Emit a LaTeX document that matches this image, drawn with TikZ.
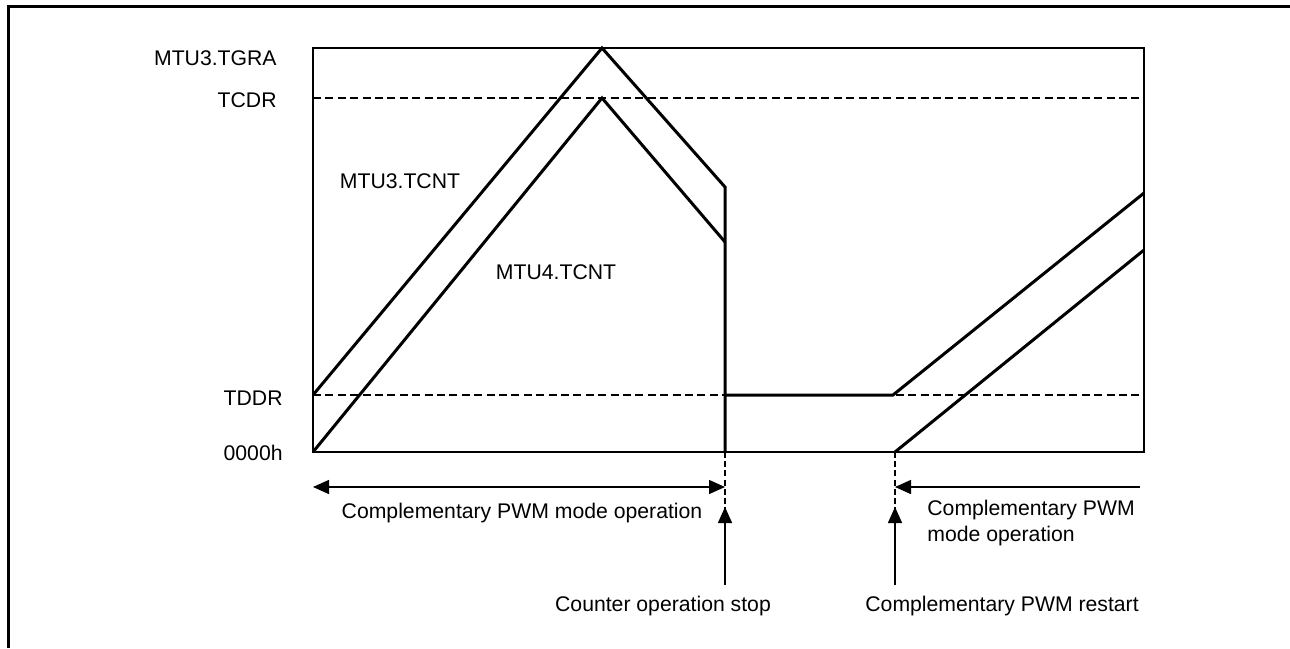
\documentclass[tikz,border=0pt]{standalone}
\usepackage{fontspec}
\setmainfont{Liberation Sans}
\usetikzlibrary{arrows.meta}
\begin{document}
\begin{tikzpicture}[
   x=0.5pt,y=-0.5pt,
   cnt/.style={line width=1.5pt,line join=miter},
   axis/.style={line width=0.75pt},
   lvl/.style={line width=1pt,dash pattern=on 4pt off 2.2pt},
   guide/.style={line width=0.75pt,dash pattern=on 3pt off 1.6pt},
   tip/.style={-{Triangle[length=8pt,width=7pt]}},
   both/.style={{Triangle[length=8pt,width=7pt]}-{Triangle[length=8pt,width=7pt]}},
   every node/.style={font=\fontsize{10.6}{13}\selectfont,inner sep=0pt}
 ]
  \useasboundingbox (0,0) rectangle (1290,648);
  \draw[line width=1.7pt] (1290,6.5) -- (8.5,6.5) -- (8.5,648);

  \coordinate (o) at (313,452);
  \coordinate (stop) at (725,452);
  \coordinate (restart) at (895,452);

  \draw[axis] (313,48) rectangle (1144,452);
  \foreach \y in {98,395} \draw[lvl] (313,\y) -- (1144,\y);
  \foreach \y/\n/\txt/\xr in {58/tgra/MTU3.TGRA/277,100/tcdr/TCDR/277,398/tddr/TDDR/283,453/zero/0000h/283}
    \node[anchor=east] (\n) at (\xr,\y) {\txt};

  \draw[cnt] (313,395) -- (602,48) -- (725,187) -- (stop);
  \draw[cnt] (o) -- (602,98) -- (725,242);
  \draw[cnt] (725,395) -- (893,395) -- (1144,193);
  \draw[cnt] (restart) -- (1144,250);
  \node (cnt3) at (400,181) {MTU3.TCNT};
  \node (cnt4) at (556,272) {MTU4.TCNT};

  \coordinate (stopa) at (725,487);
  \coordinate (starta) at (895,487);
  \draw[guide] (stop) -- (725,510);
  \draw[guide] (restart) -- (895,510);
  \draw[axis,both] (313,487) -- (stopa);
  \draw[axis,tip] (1140,487) -- (starta);
  \node (opl) at (522,513) {Complementary PWM mode operation};
  \node[anchor=west,align=left] (opr) at (927,523) {Complementary PWM\\mode operation};

  \draw[axis,tip] (725,585) -- (725,507);
  \draw[axis,tip] (895,585) -- (895,507);
  \node (stoplbl) at (663,606) {Counter operation stop};
  \node[anchor=west] (restartlbl) at (865,606) {Complementary PWM restart};
 \end{tikzpicture}
\end{document}
